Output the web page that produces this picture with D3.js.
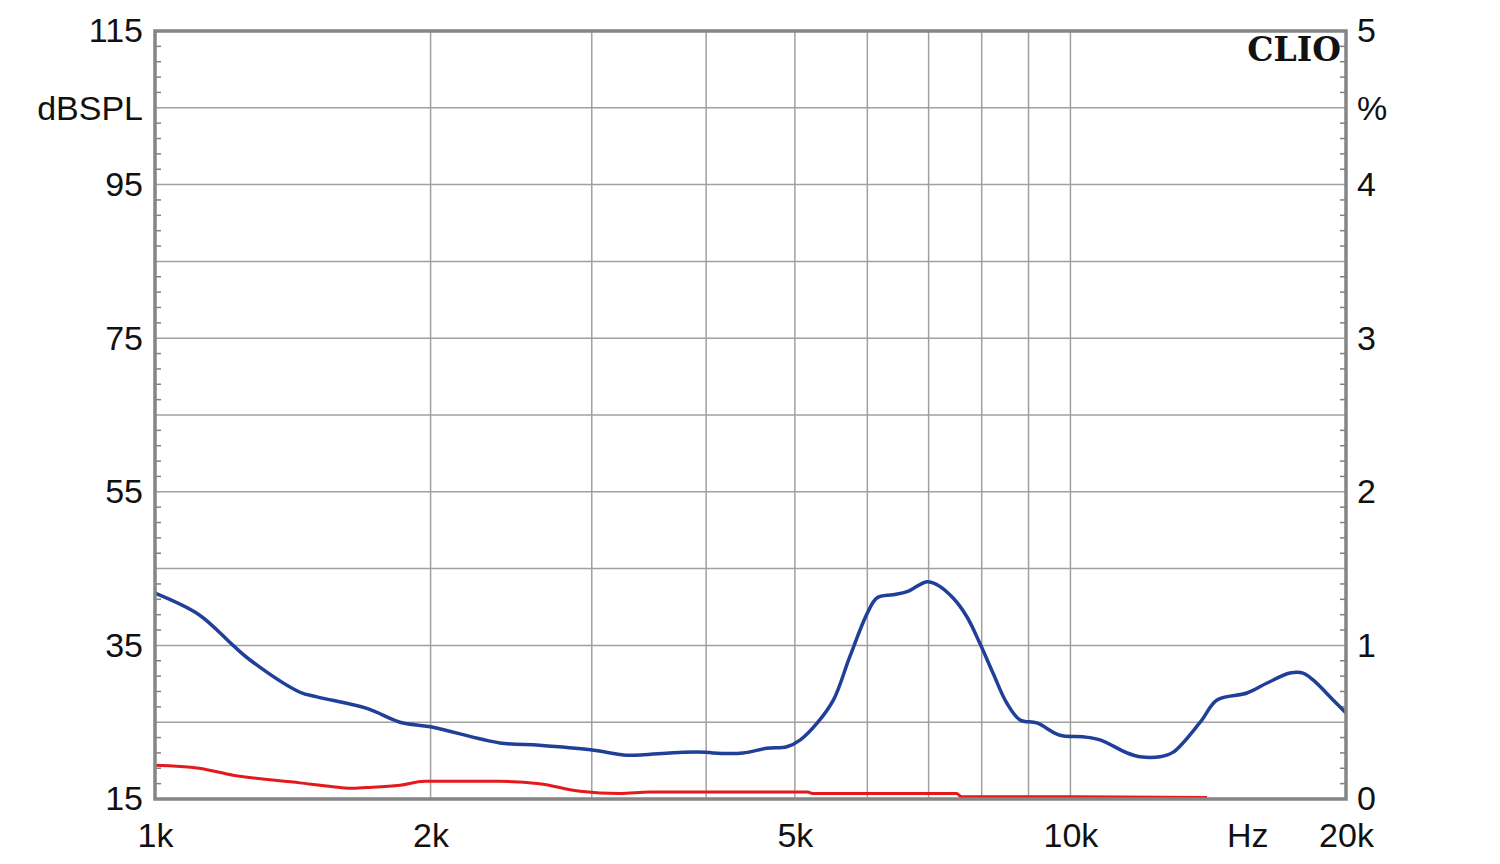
<!DOCTYPE html>
<html>
<head>
<meta charset="utf-8">
<script src="https://cdn.jsdelivr.net/npm/d3@7"></script>
<style>
  body { margin: 0; background: #fff; }
  text { font-family: "Liberation Sans", Arial, sans-serif; fill: #111; }
</style>
</head>
<body>
<div id="chart"></div>
<script>
// frequency axis ticks (Hz)
const xTickValues = [1000, 2000, 5000, 10000, 15600, 20000];
const xTickLabels = ["1k", "2k", "5k", "10k", "Hz", "20k"];
const xGridValues = [2000, 3000, 4000, 5000, 6000, 7000, 8000, 9000, 10000];

// left axis (dBSPL) and right axis (%)
const leftTickValues = [115, 95, 75, 55, 35, 15];
const rightTickLabels = ["5", "4", "3", "2", "1", "0"];

// blue curve
const blueFreq = [1000, 1117, 1217, 1270, 1440, 1503, 1704, 1852, 2000, 2381, 2630, 2990, 3220, 3303, 3773, 4000, 4070, 4390, 4660, 4900, 5070, 5290, 5510, 5740, 6000, 6150, 6400, 6630, 6970, 7150, 7440, 7710, 7960, 8230, 8520, 8810, 9190, 9740, 10320, 10770, 11530, 11910, 12530, 12950, 13860, 14460, 15590, 16400, 17370, 17950, 18410, 19360, 20000];
const blueDb = [41.8, 39.0, 35.0, 33.1, 28.9, 28.3, 26.8, 25.0, 24.4, 22.3, 22.0, 21.4, 20.8, 20.7, 21.1, 21.1, 21.0, 21.0, 21.6, 21.8, 22.7, 24.9, 27.9, 33.5, 39.2, 41.2, 41.6, 42.0, 43.3, 42.9, 41.2, 38.7, 35.3, 31.4, 27.5, 25.3, 24.9, 23.3, 23.1, 22.7, 21.0, 20.5, 20.5, 21.1, 25.0, 27.9, 28.8, 30.1, 31.4, 31.4, 30.5, 27.9, 26.2];

// red curve
const redFreq = [1000, 1117, 1217, 1440, 1565, 1633, 1704, 1852, 1970, 2381, 2630, 2913, 3220, 3473, 5160, 5240, 7510, 7600, 10000, 14100];
const redDb = [19.4, 19.0, 18.1, 17.1, 16.6, 16.4, 16.5, 16.8, 17.3, 17.3, 17.0, 16.0, 15.7, 15.9, 15.9, 15.7, 15.7, 15.3, 15.3, 15.2];

const width = 1500, height = 864;
const margin = { left: 155, right: 154, top: 31, bottom: 65 };
const fontSize = "34px";

const svg = d3.select("#chart").append("svg")
  .attr("width", width)
  .attr("height", height);

const x = d3.scaleLog()
  .domain([1000, 20000])
  .range([margin.left, width - margin.right]);

const y = d3.scaleLinear()
  .domain([15, 115])
  .range([height - margin.bottom, margin.top]);

const yRight = d3.scaleLinear()
  .domain([0, 5])
  .range([height - margin.bottom, margin.top]);

// horizontal grid every 10 dB
svg.append("g").selectAll("line")
  .data(d3.range(25, 115, 10))
  .enter().append("line")
  .attr("x1", x(1000)).attr("x2", x(20000))
  .attr("y1", d => y(d)).attr("y2", d => y(d))
  .style("stroke", "#a0a0a0")
  .style("stroke-width", 1.5);

// vertical grid
svg.append("g").selectAll("line")
  .data(xGridValues)
  .enter().append("line")
  .attr("x1", d => x(d)).attr("x2", d => x(d))
  .attr("y1", y(115)).attr("y2", y(15))
  .style("stroke", "#a0a0a0")
  .style("stroke-width", 1.5);

// minor ticks every 2 dB, inward on both sides
let minor = d3.range(17, 115, 2).filter(d => (d - 15) % 10 !== 0);
svg.append("g").selectAll("line")
  .data(minor)
  .enter().append("line")
  .attr("x1", x(1000)).attr("x2", x(1000) + 6)
  .attr("y1", d => y(d)).attr("y2", d => y(d))
  .style("stroke", "#808080").style("stroke-width", 1.5);
svg.append("g").selectAll("line")
  .data(minor)
  .enter().append("line")
  .attr("x1", x(20000)).attr("x2", x(20000) - 6)
  .attr("y1", d => y(d)).attr("y2", d => y(d))
  .style("stroke", "#808080").style("stroke-width", 1.5);

// curves
let lineSmooth = d3.line()
  .x(d => x(d[0]))
  .y(d => y(d[1]))
  .curve(d3.curveCatmullRom.alpha(0.5));

let lineFlat = d3.line()
  .x(d => x(d[0]))
  .y(d => y(d[1]))
  .curve(d3.curveMonotoneX);

svg.append("path")
  .datum(redFreq.map((f, i) => [f, redDb[i]]))
  .attr("d", lineFlat)
  .style("fill", "none")
  .style("stroke", "#e3191b")
  .style("stroke-width", 3);

svg.append("path")
  .datum(blueFreq.map((f, i) => [f, blueDb[i]]))
  .attr("d", lineSmooth)
  .style("fill", "none")
  .style("stroke", "#1f3f98")
  .style("stroke-width", 3.5);

// frame
svg.append("rect")
  .attr("x", x(1000)).attr("y", y(115))
  .attr("width", x(20000) - x(1000))
  .attr("height", y(15) - y(115))
  .style("fill", "none")
  .style("stroke", "#858585")
  .style("stroke-width", 3.5);

// left labels
let leftAxis = svg.append("g")
  .attr("transform", `translate(${x(1000)},0)`)
  .call(d3.axisLeft(y).tickValues(leftTickValues).tickSize(0).tickPadding(12));
leftAxis.select(".domain").remove();
leftAxis.selectAll("text")
  .style("font-size", fontSize)
  .style("font-family", "Liberation Sans, Arial, sans-serif")
  .attr("fill", "#111");

// right labels
let rightAxis = svg.append("g")
  .attr("transform", `translate(${x(20000)},0)`)
  .call(d3.axisRight(yRight).tickValues([5, 4, 3, 2, 1, 0]).tickSize(0).tickPadding(11)
    .tickFormat((d, i) => rightTickLabels[i]));
rightAxis.select(".domain").remove();
rightAxis.selectAll("text")
  .style("font-size", fontSize)
  .style("font-family", "Liberation Sans, Arial, sans-serif")
  .attr("fill", "#111");

// bottom labels
let bottomAxis = svg.append("g")
  .attr("transform", `translate(0,${y(15)})`)
  .call(d3.axisBottom(x).tickValues(xTickValues).tickSize(0).tickPadding(24)
    .tickFormat((d, i) => xTickLabels[i]));
bottomAxis.select(".domain").remove();
bottomAxis.selectAll("text")
  .style("font-size", fontSize)
  .style("font-family", "Liberation Sans, Arial, sans-serif")
  .attr("fill", "#111");

// unit labels
svg.append("text")
  .attr("x", x(1000) - 12).attr("y", y(105))
  .attr("dy", "0.35em")
  .attr("text-anchor", "end")
  .style("font-size", fontSize)
  .text("dBSPL");

svg.append("text")
  .attr("x", x(20000) + 11).attr("y", yRight(4.5))
  .attr("dy", "0.35em")
  .style("font-size", fontSize)
  .text("%");

// CLIO logo
svg.append("text")
  .attr("x", x(20000) - 5).attr("y", 61)
  .attr("text-anchor", "end")
  .style("font-family", "DejaVu Serif, serif")
  .style("font-weight", "bold")
  .style("font-size", "33px")
  .text("CLIO");
</script>
</body>
</html>
